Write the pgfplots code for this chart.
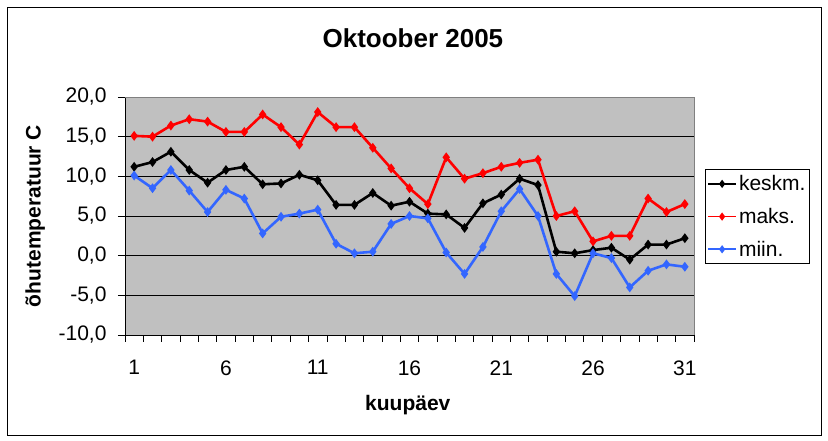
\documentclass[border=0pt]{standalone}
\usepackage{fontspec}
\setmainfont{Liberation Sans}
\usepackage{pgfplots}
\pgfplotsset{compat=1.18}
\usepackage{pgfplotstable}
\definecolor{plotgray}{HTML}{C0C0C0}
\definecolor{exred}{HTML}{FF0000}
\definecolor{exblue}{HTML}{3366FF}
\pgfplotstableread{
day keskm maks miin
1 11.2 15.1 10.1
2 11.8 15.0 8.5
3 13.1 16.4 10.8
4 10.8 17.2 8.2
5 9.2 16.9 5.5
6 10.8 15.6 8.3
7 11.2 15.6 7.2
8 9.0 17.8 2.8
9 9.1 16.2 4.9
10 10.2 14.0 5.3
11 9.5 18.1 5.8
12 6.4 16.2 1.5
13 6.4 16.2 0.3
14 7.9 13.6 0.5
15 6.3 11.0 4.0
16 6.8 8.5 5.0
17 5.3 6.5 4.7
18 5.2 12.4 0.4
19 3.5 9.7 -2.3
20 6.6 10.4 1.1
21 7.7 11.2 5.6
22 9.7 11.7 8.4
23 8.9 12.1 5.0
24 0.5 5.0 -2.3
25 0.3 5.6 -5.1
26 0.7 1.8 0.3
27 1.0 2.5 -0.3
28 -0.5 2.5 -4.0
29 1.4 7.2 -1.9
30 1.4 5.5 -1.1
31 2.2 6.5 -1.4
}\datatable
\begin{document}
\begin{tikzpicture}
\begin{axis}[
  at={(0,0)}, anchor=south west,
  scale only axis, width=569pt, height=238pt,
  xmin=0.5, xmax=31.5, ymin=-10, ymax=20,
  axis lines*=left,
  axis line style={black, line width=0.9pt},
  axis background/.style={fill=plotgray},
  xtick={1,6,...,31},
  minor xtick={0.5,1.5,...,31.5},
  ytick={-10,-5,...,20},
  tick align=outside,
  major x tick style={draw=none},
  minor tick length=7pt,
  major tick length=7pt,
  tick style={black, line width=0.8pt},
  ymajorgrids,
  grid style={black, line width=0.8pt},
  /pgf/number format/assume math mode=true,
  y tick label style={/pgf/number format/fixed, /pgf/number format/fixed zerofill, /pgf/number format/precision=1, /pgf/number format/use comma, xshift=-8pt},
  ticklabel style={font=\fontsize{21}{25}\selectfont},
  x tick label style={yshift=-15pt},
  title={\textbf{Oktoober 2005}},
  title style={font=\fontsize{26}{30}\selectfont, at={(axis description cs:0.506,1.223)}, anchor=center},
  xlabel={\textbf{kuupäev}},
  xlabel style={font=\fontsize{21}{25}\selectfont, at={(axis description cs:0.497,-0.294)}, anchor=center},
  ylabel={\textbf{õhutemperatuur C}},
  ylabel style={font=\fontsize{21}{25}\selectfont, at={(axis description cs:-0.158,0.5)}, anchor=center, rotate=0},
  legend style={at={(axis description cs:1.019,0.697)}, anchor=north west, draw=black, line width=0.8pt, fill=white,
    font=\fontsize{21}{25}\selectfont, inner xsep=2pt, inner ysep=4pt, row sep=12pt},
  legend cell align=left,
  legend image code/.code={\draw[#1, line width=1.8pt] (0pt,0pt) -- (28pt,0pt); \draw[#1, only marks, mark=diamond*, mark size=2pt] plot coordinates {(14pt,0pt)};},
  every axis plot/.append style={line width=2.6pt, mark=diamond*, mark size=2.8pt},
  clip=false,
]
\addplot[black, mark options={fill=black}] table[x=day, y=keskm] {\datatable};
\addlegendentry{keskm.}
\addplot[exred, mark options={fill=exred}] table[x=day, y=maks] {\datatable};
\addlegendentry{maks.}
\addplot[exblue, mark options={fill=exblue}] table[x=day, y=miin] {\datatable};
\addlegendentry{miin.}
\draw[gray, line width=0.9pt] (rel axis cs:0,1) -- (rel axis cs:1,1) -- (rel axis cs:1,0);
\end{axis}
\draw[black, line width=0.9pt] (-118pt,-100pt) rectangle (696pt,328pt);
\pgfresetboundingbox
\useasboundingbox (-125pt,-106pt) rectangle (703pt,335pt);
\end{tikzpicture}
\end{document}
